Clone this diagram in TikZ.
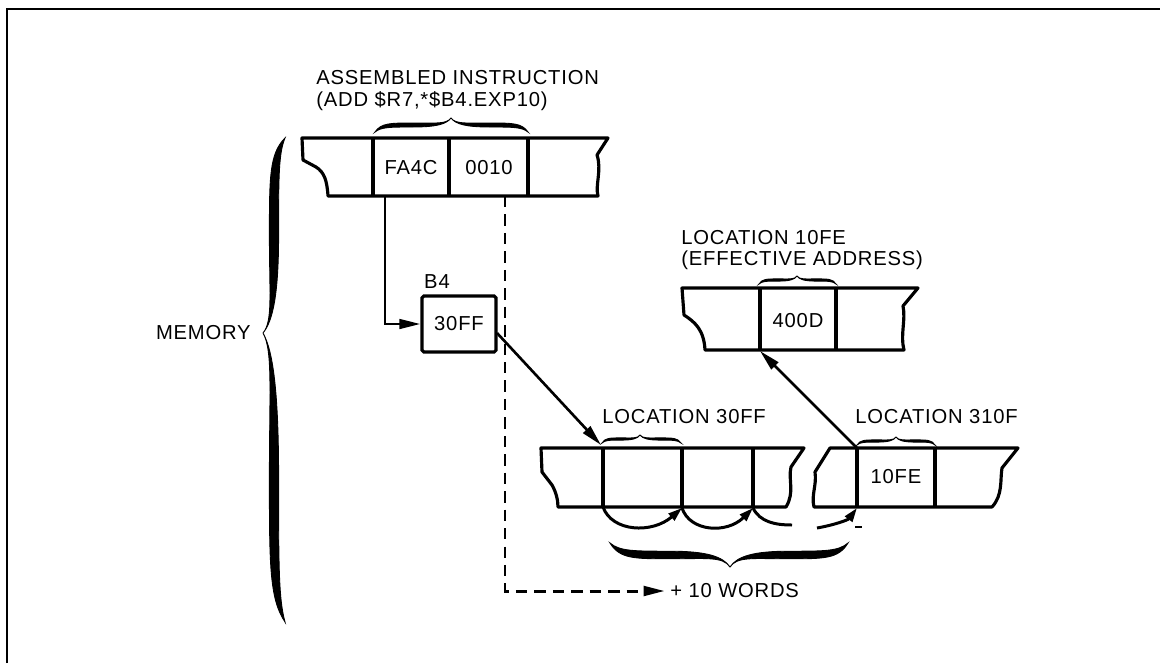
\documentclass[tikz,border=0pt]{standalone}
\usepackage{fontspec}
\setmainfont{Liberation Sans}[LetterSpace=4]
\usetikzlibrary{arrows.meta}
% brace: #1 start u, #2 tip u, #3 end u, #4 base v, #5 amplitude (signed), #6 half thickness
\newcommand\hbrace[6]{%
\filldraw[line width=0.5pt] ({#1},{#4}) .. controls ({#1+0.08*(#2-#1)},{#4+0.5*(#5)+#6}) and ({#1+0.2*(#2-#1)},{#4+0.5*(#5)+#6}) .. ({#1+0.5*(#2-#1)},{#4+0.5*(#5)+#6})
 .. controls ({#1+0.8*(#2-#1)},{#4+0.5*(#5)+#6}) and ({#2-0.06*(#2-#1)},{#4+0.55*(#5)}) .. ({#2},{#4+#5})
 .. controls ({#2+0.06*(#3-#2)},{#4+0.55*(#5)}) and ({#2+0.2*(#3-#2)},{#4+0.5*(#5)+#6}) .. ({#2+0.5*(#3-#2)},{#4+0.5*(#5)+#6})
 .. controls ({#2+0.8*(#3-#2)},{#4+0.5*(#5)+#6}) and ({#3-0.08*(#3-#2)},{#4+0.5*(#5)+#6}) .. ({#3},{#4})
 .. controls ({#3-0.08*(#3-#2)},{#4+0.5*(#5)-#6}) and ({#2+0.8*(#3-#2)},{#4+0.5*(#5)-#6}) .. ({#2+0.5*(#3-#2)},{#4+0.5*(#5)-#6})
 .. controls ({#2+0.2*(#3-#2)},{#4+0.5*(#5)-#6}) and ({#2+0.06*(#3-#2)},{#4+0.55*(#5)}) .. ({#2},{#4+#5})
 .. controls ({#2-0.06*(#2-#1)},{#4+0.55*(#5)}) and ({#1+0.8*(#2-#1)},{#4+0.5*(#5)-#6}) .. ({#1+0.5*(#2-#1)},{#4+0.5*(#5)-#6})
 .. controls ({#1+0.2*(#2-#1)},{#4+0.5*(#5)-#6}) and ({#1+0.08*(#2-#1)},{#4+0.5*(#5)-#6}) .. cycle;}
\begin{document}
\begin{tikzpicture}[x=0.02cm,y=-0.02cm,
  every node/.style={font=\fontsize{11.5}{13}\selectfont, inner sep=0pt},
  mem/.style={line width=1.8pt, line join=round},
  conn/.style={line width=1.5pt},
  bigtip/.style={-{Triangle[length=12pt,width=5.5pt]}},
  smalltip/.style={-{Triangle[length=8pt,width=5pt]}},
  lbl/.style={anchor=west}]
\useasboundingbox (0,0) rectangle (1160,663);
% frame
\draw[line width=1.3pt] (7,663) -- (7,9) -- (1160,9);

% row 1: assembled instruction
\draw[mem] (302,138) -- (608,138) -- (597,155) .. controls (602,170) and (595,185) .. (598,196) -- (328,196) .. controls (327,180) and (324,172) .. (316,167) -- (303,160) -- cycle;
\draw[mem] (373,138) -- (373,196) (449,138) -- (449,196) (528,138) -- (528,196);
\node (fa4c) at (411,168) {FA4C};
\node (c0010) at (489,168) {0010};
\node[lbl] (asm1) at (316,78) {ASSEMBLED INSTRUCTION};
\node[lbl] (asm2) at (316,101) {(ADD \$R7,*\$B4.EXP10)};
\hbrace{375}{451}{528}{132}{-14}{2}

% B4 register
\node[draw, line width=1.8pt, rounded corners=1pt, minimum width=1.48cm, minimum height=1.12cm] (b4) at (459,324) {30FF};
\node (b4lbl) at (437,282) {B4};

% row 2: location 10FE
\draw[mem] (682,288) -- (918,288) -- (903,306) .. controls (906,320) and (900,335) .. (904,350) -- (705,350) .. controls (704,330) and (695,322) .. (684,315) -- cycle;
\draw[mem] (760,288) -- (760,350) (836,288) -- (836,350);
\node (c400d) at (798,321) {400D};
\node[lbl] (loc10fe) at (681,238) {LOCATION 10FE};
\node[lbl] (eff) at (681,260) {(EFFECTIVE ADDRESS)};
\hbrace{759}{797}{836}{284}{-8}{1.1}

% row 3: location 30FF
\draw[mem] (541,448) -- (804,448) -- (791,467) .. controls (788,480) and (795,492) .. (786,507) -- (558,507) .. controls (558,500) and (556,492) .. (552,485) -- (542,472) -- cycle;
\draw[mem] (603,448) -- (603,507) (682,448) -- (682,507) (753,448) -- (753,507);
\node[lbl] (loc30ff) at (602,417) {LOCATION 30FF};
\hbrace{602}{640}{681}{443}{-8}{1.1}

% row 4: location 310F
\draw[mem] (830,448) -- (1018,448) -- (1002,468) .. controls (1000,480) and (1003,495) .. (992,507) -- (814,507) .. controls (811,495) and (817,485) .. (815,472) -- cycle;
\draw[mem] (857,448) -- (857,507) (935,448) -- (935,507);
\node (c10fe) at (896,477) {10FE};
\node[lbl] (loc310f) at (855,417) {LOCATION 310F};
\hbrace{857}{896}{935}{445}{-8}{1.1}

% memory brace
\node[anchor=east] (memlbl) at (251,333) {MEMORY};
\begin{scope}[cm={0,-1,-1,0,(0,0)}]
\hbrace{138}{333}{622}{285}{-22}{4.6}
\end{scope}

% +10 words brace
\hbrace{610}{730}{848}{543}{24}{3.8}
\node[lbl] (words) at (670,591) {+ 10 WORDS};

% connectors
\coordinate (fa4cdown) at (385,196);
\draw[conn, bigtip] (fa4cdown) |- (b4.west);
\coordinate (x0010down) at (505,196);
\coordinate (dashcorner) at (505,591);
\draw[conn, line width=1.7pt, dash pattern=on 6.5pt off 4pt, bigtip] (x0010down) -- (dashcorner) -- ([xshift=-3pt]words.west);
\coordinate (b4out) at (497,333);
\coordinate (r3in) at (601,445);
\draw[conn, bigtip] (b4out) -- (r3in);
\coordinate (r4out) at (857,448);
\coordinate (r2in) at (760,351);
\draw[conn, bigtip] (r4out) -- (r2in);

% word-step arcs
\coordinate (w0) at (603,507);
\coordinate (w1) at (682,508);
\coordinate (w2) at (753,508);
\coordinate (w3) at (792,525);
\coordinate (w4) at (817,528);
\coordinate (w5) at (857,508);
\draw[conn, line width=1.7pt, smalltip] (w0) .. controls (612,532) and (652,534) .. (w1);
\draw[conn, line width=1.7pt, smalltip] (w1) .. controls (690,532) and (727,534) .. (w2);
\draw[conn, line width=1.7pt] (w2) .. controls (760,522) and (775,525) .. (w3);
\draw[conn, line width=1.7pt, smalltip] (w4) .. controls (834,525) and (848,520) .. (w5);
\draw[conn] (855,527) -- (862,527);
\end{tikzpicture}
\end{document}
